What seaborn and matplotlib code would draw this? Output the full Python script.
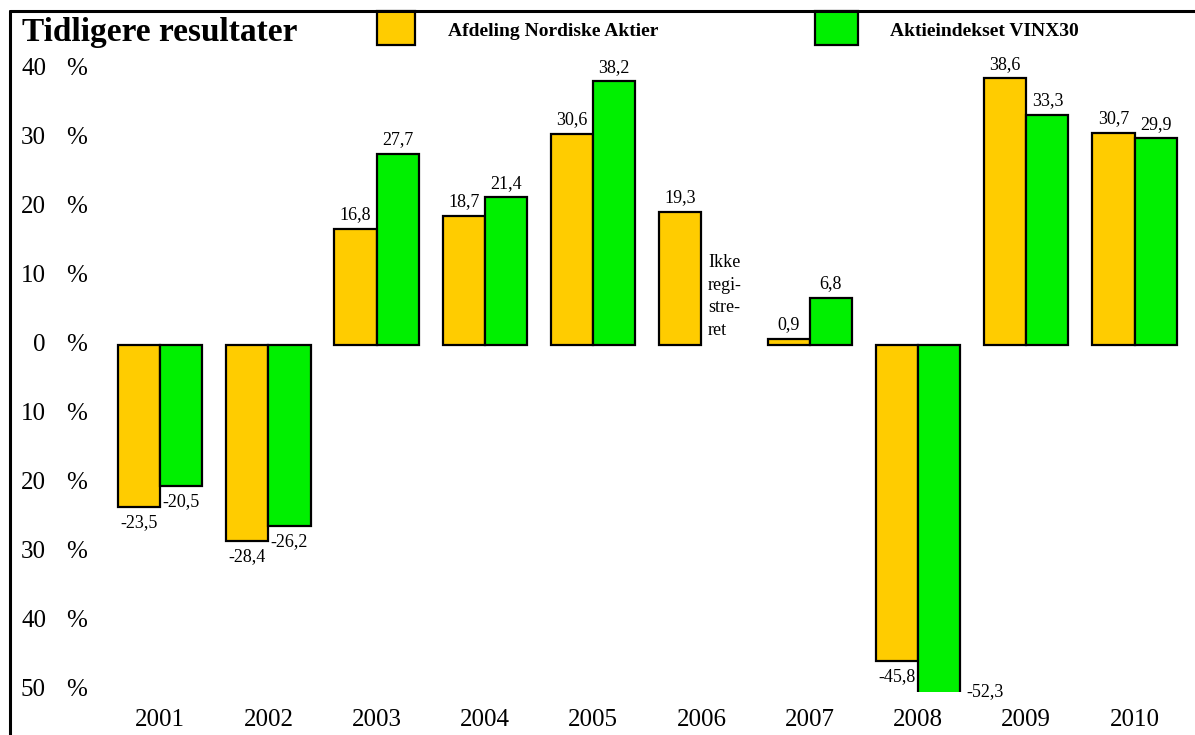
import matplotlib
matplotlib.use('Agg')
import numpy as np
import pandas as pd
import matplotlib.pyplot as plt
import matplotlib.transforms as mtransforms
from matplotlib.patches import Rectangle
from matplotlib.lines import Line2D
import seaborn as sns

years = ['2001', '2002', '2003', '2004', '2005', '2006', '2007', '2008', '2009', '2010']
fund = [-23.5, -28.4, 16.8, 18.7, 30.6, 19.3, 0.9, -45.8, 38.6, 30.7]
index = [-20.5, -26.2, 27.7, 21.4, 38.2, np.nan, 6.8, -52.3, 33.3, 29.9]
series = ['Afdeling Nordiske Aktier', 'Aktieindekset VINX30']
colors = ['#FFCC00', '#00F000']
yticks = [40, 30, 20, 10, 0, -10, -20, -30, -40, -50]
title = 'Tidligere resultater'
note = 'Ikke\nregi-\nstre-\nret'

df = pd.DataFrame({'year': years * 2,
                   'serie': [series[0]] * len(years) + [series[1]] * len(years),
                   'value': fund + index})

sns.set_theme(style='white')
plt.rcParams['font.family'] = ['Liberation Serif', 'DejaVu Serif']
plt.rcParams['text.color'] = 'black'
plt.rcParams['xtick.color'] = 'black'

W, H = 1195, 735
fig = plt.figure(figsize=(W / 100, H / 100), dpi=100)
ax = fig.add_axes([0.0887, 0.0585, 0.906, 0.862])
sns.barplot(data=df, x='year', y='value', hue='serie', palette=colors,
            width=0.78, edgecolor='black', linewidth=1.6, saturation=1,
            errorbar=None, legend=False, ax=ax)

ax.set_xlim(-0.5, 9.5)
ymin, ymax = -50.3, 41.5
ax.set_ylim(ymin, ymax)
for s in ax.spines.values():
    s.set_visible(False)
ax.set_yticks([])
ax.set_xlabel('')
ax.set_ylabel('')
ax.tick_params(axis='x', length=0, pad=12, labelsize=18, labelcolor='black')

# y labels: number and % sign apart
trans = mtransforms.blended_transform_factory(fig.transFigure, ax.transData)
for t in yticks:
    ax.text(46 / W, t, str(abs(t)), transform=trans, ha='right', va='center',
            fontsize=18, clip_on=False)
    ax.text(66 / W, t, '%', transform=trans, ha='left', va='center',
            fontsize=18, clip_on=False)

# value labels
for j, vals in enumerate([fund, index]):
    off = (-0.195, 0.195)[j]
    for i, v in enumerate(vals):
        if np.isnan(v):
            continue
        lab = f'{v:.1f}'.replace('.', ',')
        x = i + off
        if v >= 0:
            ax.annotate(lab, (x, v), xytext=(0, 4), textcoords='offset points',
                        ha='center', va='bottom', fontsize=13)
        elif v < ymin:
            ax.annotate(lab, (x + 0.2, ymin), xytext=(4, 0), textcoords='offset points',
                        ha='left', va='center', fontsize=13, annotation_clip=False)
        else:
            ax.annotate(lab, (x, v), xytext=(0, -5), textcoords='offset points',
                        ha='center', va='top', fontsize=13)

ax.text(5.06, 7.0, note, ha='left', va='center', fontsize=13, linespacing=1.45)

# frame
fig.add_artist(Line2D([10 / W, 1], [1 - 11 / H] * 2, transform=fig.transFigure,
                      color='black', lw=2.2))
fig.add_artist(Line2D([10 / W] * 2, [0, 1 - 11 / H], transform=fig.transFigure,
                      color='black', lw=2.2))

# title and legend
fig.text(22 / W, 1 - 33 / H, title, fontsize=24, fontweight='bold', va='center')
for (x0, x1, tx), name, c in zip([(377, 415, 448), (815, 858, 890)], series, colors):
    fig.add_artist(Rectangle((x0 / W, 1 - 45 / H), (x1 - x0) / W, 34 / H,
                             transform=fig.transFigure, facecolor=c,
                             edgecolor='black', lw=1.6))
    fig.text(tx / W, 1 - 31 / H, name, fontsize=14, fontweight='bold', va='center')

fig.savefig('out.png', dpi=100)
